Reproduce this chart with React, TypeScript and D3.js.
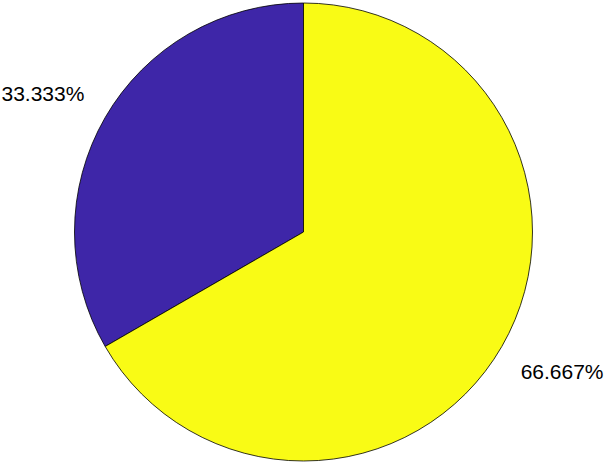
import React from "react";
import * as d3 from "d3";

const labels = ["33.333%", "66.667%"];
const values = [1, 2];
const colors = ["#3e26a8", "#f9fb15"];

const W = 605;
const H = 464;
const cx = 303.5;
const cy = 232;
const R = 229;

export default function App() {
  // MATLAB style: start at top, go counterclockwise
  const pie = d3
    .pie<number>()
    .sort(null)
    .startAngle(0)
    .endAngle(-2 * Math.PI);
  const arcs = pie(values);
  const arc = d3.arc<d3.PieArcDatum<number>>().innerRadius(0).outerRadius(R);

  return (
    <svg
      width={W}
      height={H}
      style={{ position: "absolute", left: 0, top: 0, background: "#fff" }}
    >
      <g transform={`translate(${cx},${cy})`}>
        {arcs.map((a, i) => (
          <path
            key={i}
            d={arc(a) || ""}
            fill={colors[i]}
            stroke="#000"
            strokeWidth={0.8}
          />
        ))}
        {arcs.map((a, i) => {
          const mid = (a.startAngle + a.endAngle) / 2;
          const x = Math.sin(mid) * R * 1.1;
          const y = -Math.cos(mid) * R * 1.1;
          const left = x < 0;
          const upper = y < 0;
          return (
            <text
              key={"t" + i}
              x={left ? x - 1 : x - 1}
              y={upper ? y - 5 : y + 21}
              textAnchor={left ? "end" : "start"}
              fontFamily="Liberation Sans, Arial, sans-serif"
              fontSize={21}
              fill="#000"
            >
              {labels[i]}
            </text>
          );
        })}
      </g>
    </svg>
  );
}
